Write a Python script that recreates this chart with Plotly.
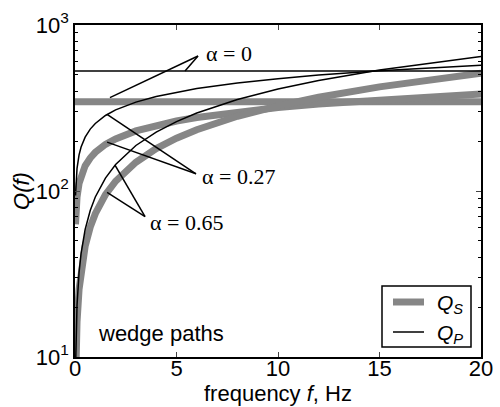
import plotly.graph_objects as go

# frequency samples (Hz)
freq = [0.025, 0.05, 0.1, 0.2, 0.3, 0.5, 0.75, 1, 1.5, 2, 3, 4, 5, 6, 8, 10, 12, 15, 20]
freq_flat = [0, 20]

# alpha = 0 (constant Q)
qs_a0 = [345, 345]
qp_a0 = [528, 528]
# alpha = 0.27
qs_a27 = [63, 76, 92, 111, 123, 142, 158, 171, 191, 206, 230, 249, 264, 277, 300, 318, 334, 355, 384]
qp_a27 = [94, 113, 137, 165, 184, 211, 236, 255, 285, 308, 343, 371, 394, 414, 447, 475, 499, 530, 572]
# alpha = 0.65
qs_a65 = [6.6, 10.4, 16.3, 25.6, 33.4, 46.5, 60.6, 73, 95, 114.5, 149, 180, 208, 234, 282, 326, 367, 424, 512]
qp_a65 = [8.4, 13.1, 20.6, 32.3, 42.1, 58.6, 76.3, 92, 119.7, 144.3, 188, 226.5, 262, 295, 355.5, 411, 463, 535, 645]

# label texts and pointer lines (f, Q) : apex then target
labels = ["α = 0", "α = 0.27", "α = 0.65"]
legend_names = ["<i>Q<sub>S</sub></i>", "<i>Q<sub>P</sub></i>"]
pointers = [
    [(6.06, 651), (1.72, 365)],
    [(6.06, 651), (5.42, 528)],
    [(5.96, 127), (1.58, 289)],
    [(5.96, 127), (1.58, 197)],
    [(3.45, 70), (1.97, 143)],
    [(3.45, 70), (1.58, 98)],
]

GRAY = "#868686"
SANS = "Liberation Sans"
SERIF = "Liberation Serif"

fig = go.Figure()
gray_sets = [(freq_flat, qs_a0), (freq, qs_a27), (freq, qs_a65)]
black_sets = [(freq_flat, qp_a0), (freq, qp_a27), (freq, qp_a65)]
for x, y in gray_sets:
    fig.add_trace(go.Scatter(x=x, y=y, mode="lines", line=dict(color=GRAY, width=7),
                             name=legend_names[0], showlegend=False))
for x, y in black_sets:
    fig.add_trace(go.Scatter(x=x, y=y, mode="lines", line=dict(color="black", width=1.5),
                             name=legend_names[1], showlegend=False))
for (a, b) in pointers:
    fig.add_trace(go.Scatter(x=[a[0], b[0]], y=[a[1], b[1]], mode="lines",
                             line=dict(color="black", width=1.5), showlegend=False, hoverinfo="skip"))

def px2paper(x, y):
    return (x - 75) / 406, (357 - y) / 332

annos = []
for txt, (x, y) in zip(labels, [(204, 54), (200, 176), (148, 222)]):
    xp, yp = px2paper(x, y)
    annos.append(dict(text=txt, x=xp, y=yp, xref="paper", yref="paper", xanchor="left",
                      yanchor="middle", showarrow=False, font=dict(family=SERIF, size=22, color="black")))
xp, yp = px2paper(161, 333)
annos.append(dict(text="wedge paths", x=xp, y=yp, xref="paper", yref="paper", xanchor="center",
                  yanchor="middle", showarrow=False, font=dict(family=SANS, size=22, color="black")))

# hand-drawn legend box
shapes = []
bx0, by0 = px2paper(382, 347)
bx1, by1 = px2paper(471, 286)
shapes.append(dict(type="rect", xref="paper", yref="paper", x0=bx0, y0=by0, x1=bx1, y1=by1,
                   line=dict(color="black", width=1.5), fillcolor="white", layer="above"))
for name, color, width, yy in [(legend_names[0], GRAY, 7, 302), (legend_names[1], "black", 1.5, 332)]:
    sx0, sy = px2paper(393, yy)
    sx1, _ = px2paper(424, yy)
    shapes.append(dict(type="line", xref="paper", yref="paper", x0=sx0, y0=sy, x1=sx1, y1=sy,
                       line=dict(color=color, width=width), layer="above"))
    tx, ty = px2paper(435, yy + 2)
    annos.append(dict(text=name, x=tx, y=ty, xref="paper", yref="paper", xanchor="left",
                      yanchor="middle", showarrow=False, font=dict(family=SANS, size=21, color="black")))

fig.update_layout(
    width=500, height=407,
    margin=dict(l=75, r=19, t=25, b=50),
    plot_bgcolor="white", paper_bgcolor="white",
    font=dict(family=SANS, size=22, color="black"),
    annotations=annos, shapes=shapes, showlegend=False,
    xaxis=dict(range=[0, 20], tickvals=[0, 5, 10, 15, 20], ticks="inside", ticklen=5,
               showline=True, linecolor="black", linewidth=1.5, mirror="ticks", automargin=False,
               showgrid=False, zeroline=False, tickfont=dict(size=22), ticklabelstandoff=-9,
               title=dict(text="frequency <i>f</i>, Hz", standoff=4, font=dict(size=22))),
    yaxis=dict(type="log", range=[1, 3], tickvals=[10, 100, 1000],
               ticktext=["10<sup>1</sup>", "10<sup>2</sup>", "10<sup>3</sup>"],
               ticks="inside", ticklen=5, showline=True, linecolor="black", linewidth=1.5,
               mirror="ticks", showgrid=False, zeroline=False, tickfont=dict(size=22), automargin=False,
               minor=dict(tickvals=[20, 30, 40, 50, 60, 70, 80, 90, 200, 300, 400, 500, 600, 700, 800, 900],
                          ticks="inside", ticklen=3, tickcolor="black", showgrid=False),
               title=dict(text="<i>Q(f)</i>", standoff=0, font=dict(size=22))),
)
fig.write_html("out.html")
